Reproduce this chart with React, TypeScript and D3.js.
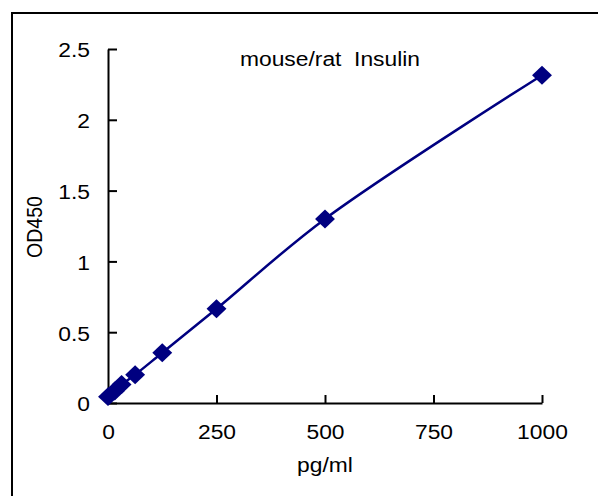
import * as d3 from 'd3';
import { useEffect, useRef } from 'react';

// standard curve, mouse/rat insulin ELISA
const concentrations = [0, 15.6, 31.25, 62.5, 125, 250, 500, 1000];
const od450 = [0.045, 0.085, 0.13, 0.2, 0.355, 0.665, 1.3, 2.315];
const xTicks = [0, 250, 500, 750, 1000];
const yTicks = [0, 0.5, 1, 1.5, 2, 2.5];
const title = 'mouse/rat  Insulin';
const xLabel = 'pg/ml';
const yLabel = 'OD450';

const W = 598;
const H = 496;
const FONT = '"Liberation Sans", Arial, sans-serif';
const FS = 19.5;
const STRETCH = 1.17;
const NAVY = '#000080';

export default function App() {
    const svgRef = useRef<SVGSVGElement>(null);

    useEffect(() => {
        drawChart(svgRef.current!);
    }, []);

    return (
        <svg
            ref={svgRef}
            width={W}
            height={H}
            style={{ position: 'absolute', left: 0, top: 0, background: '#fff' }}
        ></svg>
    );
}

function stretchText(sel: d3.Selection<any, any, any, any>) {
    sel.each(function () {
        const t = d3.select(this as SVGTextElement);
        const x = +(t.attr('x') || 0);
        const y = +(t.attr('y') || 0);
        t.attr('x', 0).attr('y', 0).attr('transform', `translate(${x},${y}) scale(${STRETCH},1)`);
    });
}

function drawChart(el: SVGSVGElement) {
    const svg = d3.select(el);
    svg.selectAll('*').remove();

    const data = concentrations.map((c, i) => [c, od450[i]] as [number, number]);

    const x = d3.scaleLinear().domain([0, 1000]).range([108, 542]);
    const y = d3.scaleLinear().domain([0, 2.5]).range([403, 49]);

    // outer frame (runs off the right and bottom edges)
    svg.append('rect')
        .attr('x', 12)
        .attr('y', 13)
        .attr('width', 620)
        .attr('height', 520)
        .attr('fill', 'none')
        .attr('stroke', '#000')
        .attr('stroke-width', 2);

    const yAxis = d3.axisLeft(y).tickValues(yTicks).tickSize(-9).tickSizeOuter(0).tickPadding(18)
        .tickFormat(d => String(d));
    const xAxis = d3.axisBottom(x).tickValues(xTicks).tickSize(-8).tickSizeOuter(0).tickPadding(22)
        .tickFormat(d => String(d));

    const gy = svg.append('g').attr('transform', `translate(${x(0)},0)`).call(yAxis);
    const gx = svg.append('g').attr('transform', `translate(0,${y(0)})`).call(xAxis);

    [gx, gy].forEach(g => {
        g.selectAll('path, line').attr('stroke', '#000').attr('stroke-width', 2);
        g.selectAll('text')
            .attr('font-family', FONT)
            .attr('font-size', FS)
            .attr('fill', '#000');
        stretchText(g.selectAll('text'));
    });
    gy.selectAll('text').attr('dy', '0.4em');

    const line = d3.line<[number, number]>()
        .x(d => x(d[0]))
        .y(d => y(d[1]))
        .curve(d3.curveCatmullRom.alpha(0.5));

    svg.append('path')
        .datum(data)
        .attr('d', line)
        .attr('fill', 'none')
        .attr('stroke', NAVY)
        .attr('stroke-width', 2.5);

    const marker = d3.symbol(d3.symbolSquare, 180)();
    svg.append('g')
        .selectAll('path')
        .data(data)
        .join('path')
        .attr('d', marker)
        .attr('transform', d => `translate(${x(d[0])},${y(d[1])}) scale(1.05,1) rotate(45)`)
        .attr('fill', NAVY);

    const labels = svg.append('g')
        .attr('font-family', FONT)
        .attr('font-size', FS)
        .attr('fill', '#000')
        .attr('text-anchor', 'middle');

    // keep the double space of the title
    labels.append('text')
        .attr('transform', `translate(330,66) scale(${STRETCH},1)`)
        .text(title.replace(/ /g, '\u00A0'));

    labels.append('text')
        .attr('transform', `translate(325,472) scale(${STRETCH},1)`)
        .text(xLabel);

    labels.append('text')
        .attr('transform', `translate(42,227) rotate(-90) scale(1,${STRETCH})`)
        .text(yLabel);
}
